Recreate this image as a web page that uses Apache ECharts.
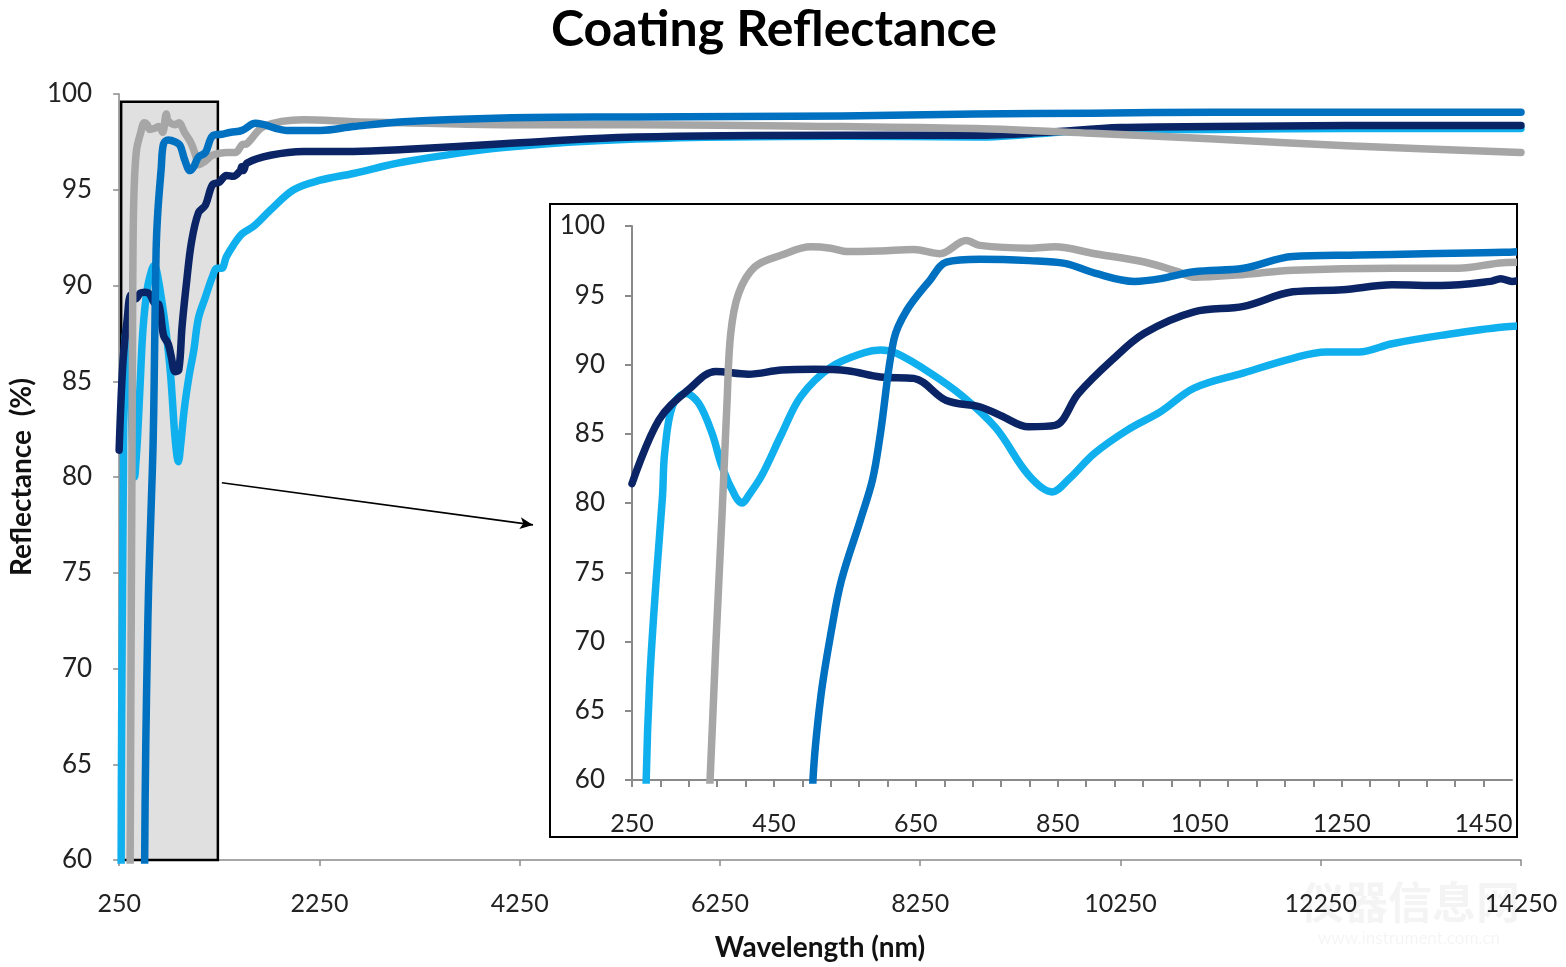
<!DOCTYPE html>
<html>
<head>
<meta charset="utf-8">
<script src="https://cdn.jsdelivr.net/npm/echarts@6/dist/echarts.min.js"></script>
<style>html,body{margin:0;padding:0;background:#fff;}#c{width:1566px;height:967px;}</style>
</head>
<body>
<div id="c"></div>
<script>
// wavelength (nm), reflectance (%)
var grayData = [[330,30],[350,50],[360,60],[368,69.6],[377,79.3],[384,87.4],[389,92.2],[400,95.1],[423,97.05],[461,97.9],[502,98.5],[530,98.4],[554,98.15],[600,98.2],[647,98.3],[684,98.0],[721,98.95],[740,98.6],[810,98.4],[846,98.5],[902,98.0],[972,97.4],[1019,96.7],[1042,96.3],[1112,96.5],[1181,96.8],[1321,96.95],[1414,96.95],[1478,97.35],[1525,97.4],[1694,98.3],[2093,98.65],[2590,98.55],[3089,98.5],[4085,98.4],[5409,98.4],[7471,98.3],[8796,98.2],[9961,97.95],[11186,97.65],[12506,97.3],[14250,96.95]];
var blueData = [[480,30],[505,60],[516,66.0],[531,70.8],[545,74.4],[572,78.8],[589,81.7],[600,85.0],[619,91.8],[637,93.9],[670,96.1],[693,97.4],[740,97.6],[810,97.5],[860,97.3],[902,96.6],[958,96.0],[995,96.2],[1042,96.7],[1112,96.95],[1181,97.8],[1274,97.9],[1367,98.0],[1478,98.1],[1611,98.47],[1924,98.1],[2259,98.1],[2590,98.3],[3089,98.55],[4085,98.75],[5409,98.8],[7471,98.85],[8796,98.95],[9961,99.0],[11186,99.05],[12506,99.05],[14250,99.05]];
var navyData = [[250,81.4],[288,86.0],[330,88.2],[368,89.5],[414,89.3],[461,89.6],[507,89.65],[554,89.55],[600,89.1],[647,89.0],[693,87.4],[740,86.95],[770,86.3],[809,85.5],[846,85.6],[879,87.9],[926,90.3],[972,92.25],[1042,93.8],[1112,94.2],[1181,95.25],[1251,95.4],[1321,95.75],[1390,95.7],[1460,96.0],[1474,96.2],[1490,96.0],[1528,96.4],[1761,96.8],[2093,97.0],[2590,97.0],[3089,97.1],[4085,97.4],[5409,97.75],[7471,97.85],[8796,97.85],[9500,98.0],[10250,98.25],[11186,98.3],[12506,98.35],[14250,98.35]];
var lightData = [[255,20],[270,60],[275,67.2],[284,74.4],[293,80.5],[296,83.6],[307,87.0],[326,87.9],[344,87.2],[363,85.0],[377,82.6],[396,80.45],[405,80.0],[415,80.6],[433,82.0],[461,85.0],[488,87.7],[530,89.8],[577,90.85],[600,91.05],[623,90.8],[670,89.4],[716,87.7],[763,85.4],[809,82.0],[842,80.8],[865,81.7],[902,83.6],[949,85.3],[995,86.6],[1042,88.3],[1112,89.4],[1181,90.45],[1228,90.9],[1274,90.9],[1321,91.5],[1390,92.1],[1478,92.7],[1595,93.1],[1761,93.94],[1993,95.0],[2259,95.5],[2590,95.85],[3089,96.45],[4085,97.2],[5409,97.65],[7471,97.8],[8796,97.75],[9961,98.1],[11186,98.15],[12506,98.2],[14250,98.2]];
var zoomBox = [[270,99.6],[1236,60]];
var arrowLine = [[1276,79.7],[4383,77.5]];

var FONT = 'Lato';
var axisGray = '#8a8a8a';
var colors = {gray:'#A6A6A6', blue:'#0070C0', navy:'#0A2466', light:'#10B0EE'};
function plain(v){ return String(v); }

function mkSeries(name, data, color, idx, z){
  return {name:name, type:'line', data:data, xAxisIndex:idx, yAxisIndex:idx,
    showSymbol:false, smooth:0.35, clip:true, z:z,
    lineStyle:{color:color, width:7.5, cap:'round', join:'round'}, itemStyle:{color:color}};
}

var order = [['light',lightData,colors.light],['navy',navyData,colors.navy],['gray',grayData,colors.gray],['blue',blueData,colors.blue]];
var series = [];
order.forEach(function(o,i){ series.push(mkSeries(o[0]+'-main', o[1], o[2], 0, 2+i*0.01)); });
series.push({type:'line', data:[], xAxisIndex:0, yAxisIndex:0, z:3, silent:true,
  markArea:{silent:true, itemStyle:{color:'rgba(180,180,180,0.42)', borderColor:'#000', borderWidth:2.5},
    data:[[{coord:zoomBox[0]},{coord:zoomBox[1]}]]},
  markLine:{silent:true, symbol:['none','arrow'], symbolSize:[9,13], label:{show:false},
    lineStyle:{color:'#000', width:1.6, type:'solid'},
    data:[[{coord:arrowLine[0]},{coord:arrowLine[1]}]]}
});
order.forEach(function(o,i){ series.push(mkSeries(o[0]+'-inset', o[1], o[2], 1, 10+i*0.01)); });

var chart = echarts.init(document.getElementById('c'), null, {renderer:'canvas'});
chart.setOption({
  animation:false,
  backgroundColor:'#fff',
  title:{text:'Coating Reflectance', left:546, top:0,
    textStyle:{fontFamily:FONT, fontSize:50, fontWeight:'bold', color:'#000'}},
  graphic:[
    {type:'rect', z:6, shape:{x:550, y:204, width:967, height:633}, style:{fill:'#fff', stroke:'#000', lineWidth:2}},
    {type:'text', z:1, left:1300, top:880, style:{text:'仪器信息网', fontSize:44, fontWeight:'bold', fontFamily:'Noto Sans CJK SC', fill:'rgba(0,0,0,0.045)'}},
    {type:'text', z:1, left:1318, top:930, style:{text:'www.instrument.com.cn', fontSize:17, fontFamily:FONT, fill:'rgba(0,0,0,0.045)'}}
  ],
  grid:[
    {left:115, right:45, top:94, bottom:107},
    {left:632, right:54, top:226, bottom:187, z:8}
  ],
  xAxis:[
    {type:'value', gridIndex:0, min:250, max:14250, interval:2000,
      name:'Wavelength (nm)', nameLocation:'middle', nameGap:74,
      nameTextStyle:{fontFamily:FONT, fontSize:28, fontWeight:'bold', color:'#111'},
      axisLine:{lineStyle:{color:axisGray, width:1.5}},
      axisTick:{show:true, length:6, lineStyle:{color:axisGray, width:1.5}},
      axisLabel:{fontFamily:FONT, fontSize:25, color:'#222', margin:31, formatter:plain},
      splitLine:{show:false}},
    {type:'value', gridIndex:1, min:250, max:1490, interval:40, z:9,
      axisLine:{lineStyle:{color:axisGray, width:2}},
      axisTick:{show:true, length:7, lineStyle:{color:axisGray, width:2}},
      axisLabel:{fontFamily:FONT, fontSize:25, color:'#222', margin:31, showMaxLabel:false,
        formatter:function(v){ return ((v-250)%200===0) ? String(v) : ''; }},
      splitLine:{show:false}}
  ],
  yAxis:[
    {type:'value', gridIndex:0, min:60, max:100, interval:5,
      name:'Reflectance  (%)', nameLocation:'middle', nameGap:82, nameRotate:90,
      nameTextStyle:{fontFamily:FONT, fontSize:28, fontWeight:'bold', color:'#111'},
      axisLine:{show:true, lineStyle:{color:axisGray, width:1.5}},
      axisTick:{show:true, length:6, lineStyle:{color:axisGray, width:1.5}},
      axisLabel:{fontFamily:FONT, fontSize:26, color:'#222', margin:27, formatter:plain},
      splitLine:{show:false}},
    {type:'value', gridIndex:1, min:60, max:100, interval:5, z:9,
      axisLine:{show:true, lineStyle:{color:axisGray, width:2}},
      axisTick:{show:true, length:7, lineStyle:{color:axisGray, width:2}},
      axisLabel:{fontFamily:FONT, fontSize:26, color:'#222', margin:27, formatter:plain},
      splitLine:{show:false}}
  ],
  series:series
});
</script>
</body>
</html>
